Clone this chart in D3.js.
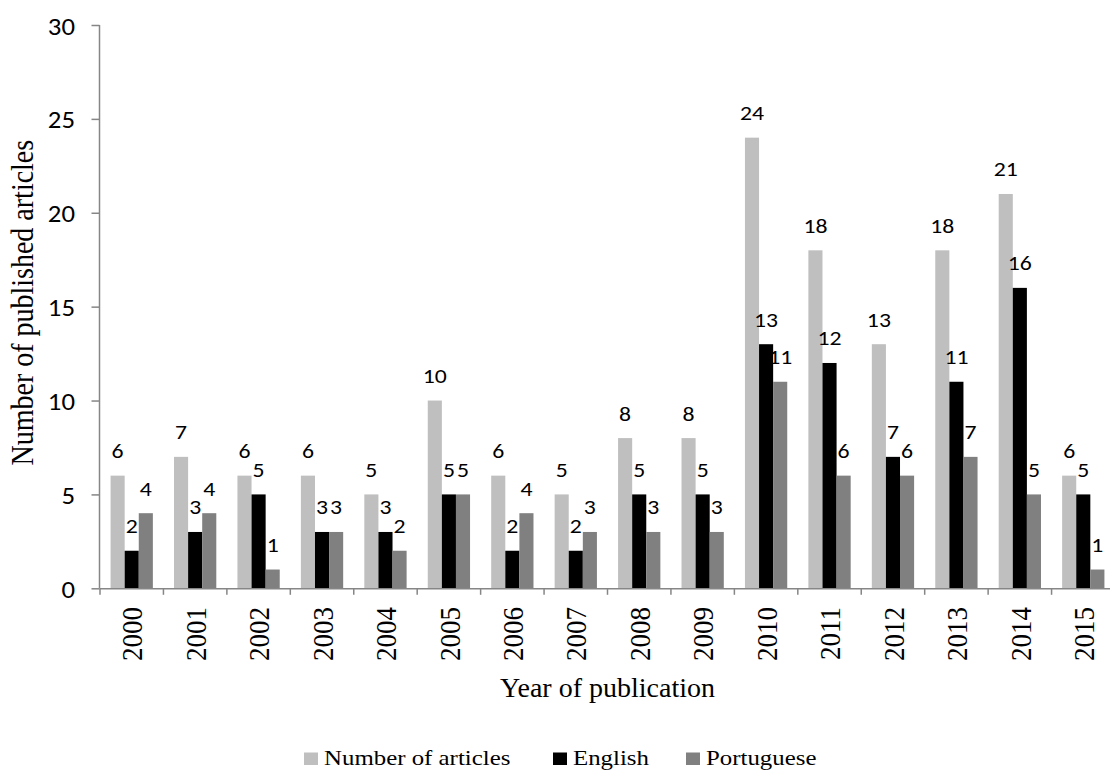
<!DOCTYPE html>
<html>
<head>
<meta charset="utf-8">
<script src="https://cdn.jsdelivr.net/npm/d3@7"></script>
<style>
  html, body { margin: 0; padding: 0; background: #fff; }
  svg { display: block; }
</style>
</head>
<body>
<svg id="chart" width="1110" height="774"></svg>
<script>
// Publications per year, split by language
const years = ["2000","2001","2002","2003","2004","2005","2006","2007",
               "2008","2009","2010","2011","2012","2013","2014","2015"];
const totalArticles = [6, 7, 6, 6, 5, 10, 6, 5, 8, 8, 24, 18, 13, 18, 21, 6];
const english       = [2, 3, 5, 3, 3, 5, 2, 2, 5, 5, 13, 12, 7, 11, 16, 5];
const portuguese    = [4, 4, 1, 3, 2, 5, 4, 3, 3, 3, 11, 6, 6, 7, 5, 1];
const seriesNames   = ["Number of articles", "English", "Portuguese"];
const yTickValues   = [0, 5, 10, 15, 20, 25, 30];

const seriesValues = [totalArticles, english, portuguese];
const colors = ["#BFBFBF", "#000000", "#808080"];
const axisColor = "#868686";
const SX = 1.13;               // horizontal text stretch
const serif = "'Liberation Serif', 'Times New Roman', serif";
const sans = "Carlito, Lato, 'Open Sans', sans-serif";

const svg = d3.select("#chart");

const plot = { left: 100, right: 1115, top: 25, bottom: 588.3 };

const x = d3.scaleBand().domain(years).range([plot.left, plot.right]).padding(0);
const xs = d3.scaleBand().domain(seriesNames).range([0, x.bandwidth()])
  .paddingInner(0).paddingOuter(0.75);
const y = d3.scaleLinear().domain([0, 30]).range([plot.bottom, plot.top]);

// stretched text helper
function stretchedText(parent, tx, ty, str, opts) {
  const sx = opts.sx != null ? opts.sx : SX;
  const g = parent.append("g").attr("transform", `translate(${tx},${ty}) scale(${sx},1)`);
  const t = g.append("text")
    .style("font-family", opts.family)
    .style("font-size", opts.size + "px")
    .attr("fill", "#000")
    .attr("text-anchor", opts.anchor || "middle")
    .text(str);
  if (opts.rotate) t.attr("transform", `rotate(${opts.rotate})`);
  if (opts.dy) t.attr("dy", opts.dy);
  return t;
}

// bars
const rows = years.map((yr, i) => ({ year: yr, values: seriesValues.map(s => s[i]) }));
const groups = svg.append("g").selectAll("g.year")
  .data(rows).join("g")
  .attr("class", "year")
  .attr("transform", d => `translate(${x(d.year)},0)`);

groups.selectAll("rect")
  .data(d => d.values.map((v, k) => ({ key: seriesNames[k], v, k })))
  .join("rect")
  .attr("x", d => xs(d.key))
  .attr("y", d => y(d.v))
  .attr("width", xs.bandwidth())
  .attr("height", d => y(0) - y(d.v))
  .attr("fill", d => colors[d.k]);

// value labels
const labelLayer = svg.append("g");
rows.forEach(r => {
  r.values.forEach((v, k) => {
    const cx = x(r.year) + xs(seriesNames[k]) + xs.bandwidth() / 2;
    stretchedText(labelLayer, cx, y(v) - 17.5, String(v), { family: sans, size: 21 });
  });
});

// y axis
const yAxis = svg.append("g").attr("transform", `translate(${plot.left - 0.5},0)`)
  .call(d3.axisLeft(y).tickValues(yTickValues).tickSize(8).tickFormat(""));
yAxis.select(".domain").attr("stroke", axisColor).attr("stroke-width", 1.5)
  .attr("d", `M0,${plot.top}V${plot.bottom}`);
yAxis.selectAll(".tick line").attr("stroke", axisColor).attr("stroke-width", 1.5);
yTickValues.forEach(v => {
  stretchedText(svg, 75, y(v) + 9.5, String(v), { family: sans, size: 23.7, anchor: "end" });
});

// x axis with ticks at category boundaries
const xAxis = svg.append("g").attr("transform", `translate(0,${plot.bottom + 0.5})`)
  .call(d3.axisBottom(x).tickSize(0).tickFormat(""));
xAxis.select(".domain").attr("stroke", axisColor).attr("stroke-width", 1.5)
  .attr("d", `M${plot.left - 0.5},0H${plot.right}`);
xAxis.selectAll(".tick").remove();
xAxis.selectAll("line.bound")
  .data(years.concat(["end"]))
  .join("line")
  .attr("class", "bound")
  .attr("x1", (d, i) => plot.left + i * x.step())
  .attr("x2", (d, i) => plot.left + i * x.step())
  .attr("y1", 0).attr("y2", 6)
  .attr("stroke", axisColor).attr("stroke-width", 1.5);

years.forEach(yr => {
  const cx = x(yr) + x.bandwidth() / 2;
  stretchedText(svg, cx, 607, yr, { family: serif, size: 27, anchor: "end", rotate: -90, dy: "0.35em" });
});

// axis titles
stretchedText(svg, (plot.left + plot.right) / 2, 697, "Year of publication", { family: serif, size: 28, sx: 1 });
stretchedText(svg, 33, (plot.top + plot.bottom) / 2 - 4, "Number of published articles",
  { family: serif, size: 28, rotate: -90 });

// legend
const legendItems = [
  { name: seriesNames[0], color: colors[0], sq: 304 },
  { name: seriesNames[1], color: colors[1], sq: 553 },
  { name: seriesNames[2], color: colors[2], sq: 686 }
];
const legend = svg.append("g");
legendItems.forEach(it => {
  legend.append("rect").attr("x", it.sq).attr("y", 752.5).attr("width", 14).attr("height", 12.5)
    .attr("fill", it.color);
  stretchedText(legend, it.sq + 20, 765.3, it.name, { family: serif, size: 22, anchor: "start" });
});
</script>
</body>
</html>
